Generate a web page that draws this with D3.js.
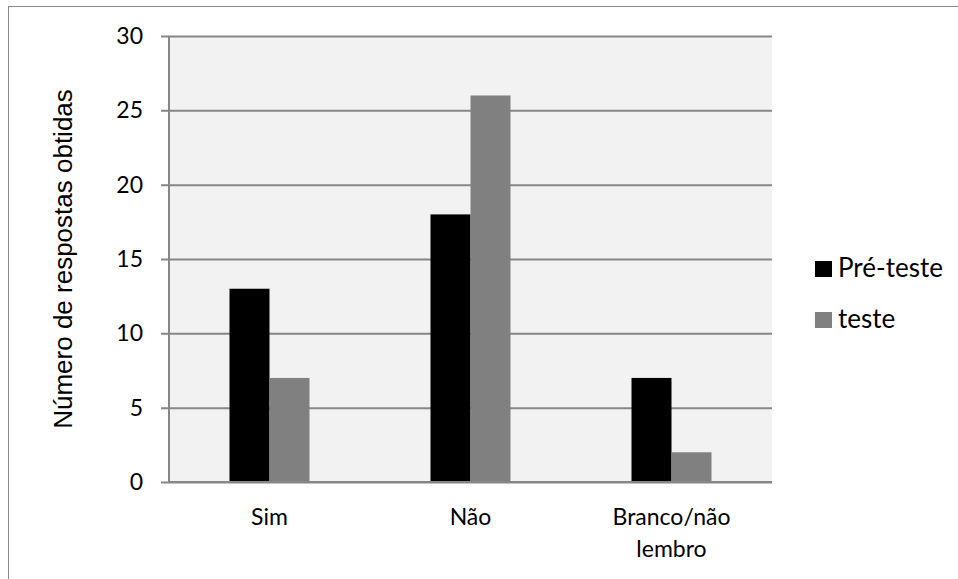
<!DOCTYPE html>
<html>
<head>
<meta charset="utf-8">
<script src="https://cdn.jsdelivr.net/npm/d3@7"></script>
<style>
  html, body { margin: 0; padding: 0; background: #fff; }
  svg { display: block; }
</style>
</head>
<body>
<svg id="chart" width="958" height="579"></svg>
<script>
const categories = [["Sim"], ["Não"], ["Branco/não", "lembro"]];
const seriesNames = ["Pré-teste", "teste"];
const preTeste = [13, 18, 7];
const teste = [7, 26, 2];
const yTicks = [0, 5, 10, 15, 20, 25, 30];
const colors = ["#000000", "#808080"];

const font = "Lato, 'Open Sans', sans-serif";
const svg = d3.select("#chart");

// outer frame
svg.append("rect").attr("x", 8.5).attr("y", 6.5).attr("width", 1000).attr("height", 1000)
  .attr("fill", "#fff").attr("stroke", "#888").attr("stroke-width", 1);

const plot = { left: 169, right: 772, top: 36, bottom: 482 };

const x = d3.scaleBand().domain(categories.map((d, i) => i))
  .range([plot.left, plot.right]).paddingInner(0).paddingOuter(0);
const xs = d3.scaleBand().domain(seriesNames).range([0, 80]);
const y = d3.scaleLinear().domain([0, 30]).range([plot.bottom, plot.top]);

// plot background
svg.append("rect").attr("x", plot.left).attr("y", plot.top)
  .attr("width", plot.right - plot.left).attr("height", plot.bottom - plot.top)
  .attr("fill", "#f2f2f2");

// gridlines + y ticks
const yAxis = d3.axisLeft(y).tickValues(yTicks).tickSize(plot.right - plot.left + 8).tickPadding(18);
const gy = svg.append("g").attr("transform", `translate(${plot.right},0)`).call(yAxis);
gy.select(".domain").remove();
gy.selectAll(".tick line").attr("stroke", "#868686").attr("stroke-width", 2);
gy.selectAll(".tick text").attr("font-family", font).attr("font-size", 23).attr("fill", "#000");

// y axis line
svg.append("line").attr("x1", plot.left).attr("x2", plot.left)
  .attr("y1", plot.top).attr("y2", plot.bottom).attr("stroke", "#868686").attr("stroke-width", 2);

// bars
const data = categories.map((c, i) => ({ i, values: [preTeste[i], teste[i]] }));
const groups = svg.append("g").selectAll("g").data(data).join("g")
  .attr("transform", d => `translate(${x(d.i) + x.bandwidth() / 2 - 40},0)`);
groups.selectAll("rect").data(d => d.values.map((v, k) => ({ v, k })))
  .join("rect")
  .attr("x", d => xs(seriesNames[d.k]))
  .attr("width", xs.bandwidth())
  .attr("y", d => y(d.v))
  .attr("height", d => y(0) - y(d.v))
  .attr("fill", d => colors[d.k]);

// x axis baseline
svg.append("line").attr("x1", plot.left).attr("x2", plot.right)
  .attr("y1", plot.bottom).attr("y2", plot.bottom).attr("stroke", "#868686").attr("stroke-width", 2);

// category labels
const xl = svg.append("g").selectAll("text").data(categories).join("text")
  .attr("x", (d, i) => x(i) + x.bandwidth() / 2)
  .attr("y", 525)
  .attr("text-anchor", "middle")
  .attr("font-family", font).attr("font-size", 23);
xl.selectAll("tspan").data(d => d).join("tspan")
  .attr("x", function () { return this.parentNode.getAttribute("x"); })
  .attr("dy", (d, j) => j === 0 ? 0 : 32)
  .text(d => d);

// y axis title
svg.append("text")
  .attr("transform", `translate(72,259) rotate(-90)`)
  .attr("text-anchor", "middle")
  .attr("font-family", "'Liberation Sans', Arial, sans-serif").attr("font-size", 26)
  .text("Número de respostas obtidas");

// legend
const legend = svg.append("g").selectAll("g").data(seriesNames).join("g")
  .attr("transform", (d, i) => `translate(815,${261 + i * 51})`);
legend.append("rect").attr("width", 17).attr("height", 16).attr("fill", (d, i) => colors[i]);
legend.append("text").attr("x", 23).attr("y", 16)
  .attr("font-family", font).attr("font-size", 26).text(d => d);
</script>
</body>
</html>
